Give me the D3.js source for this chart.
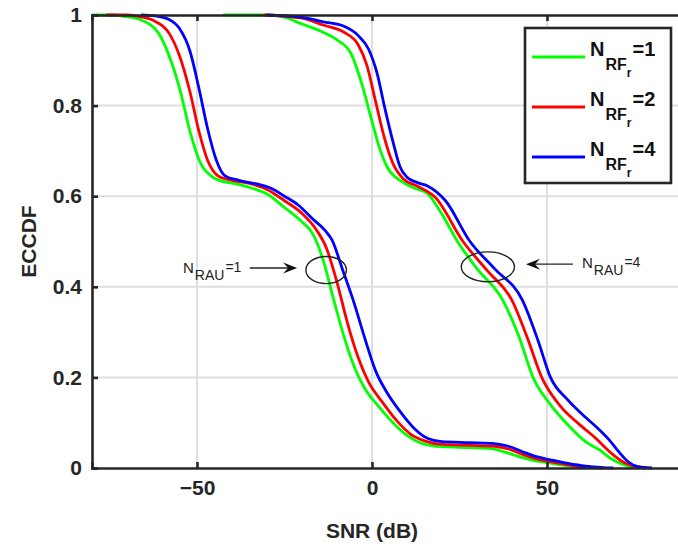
<!DOCTYPE html>
<html>
<head>
<meta charset="utf-8">
<script src="https://cdn.jsdelivr.net/npm/d3@7"></script>
<style>
  body { margin: 0; background: #fff; }
  text { font-family: "Liberation Sans", Arial, sans-serif; }
</style>
</head>
<body>
<div id="chart"></div>
<script>

// ECCDF of SNR, two groups (N_RAU=1 left, N_RAU=4 right), three N_RF values each
const xTicks = [-50, 0, 50];
const yTicks = [0, 0.2, 0.4, 0.6, 0.8, 1];
const seriesNames = ['1', '2', '4'];
const seriesColors = ['#00ff00', '#ff0000', '#0000ff'];

// N_RAU = 1
const rau1X_rf1 = [-82, -74, -71, -66, -61, -57.5, -54.7, -51.9, -49, -46, -44, -40, -37.6, -34, -30, -25, -20, -17, -14, -11, -8, -5, -2, 2, 6, 10, 14, 20, 28, 34, 38, 42, 46, 50, 55, 60, 63];
const rau1Y_rf1 = [1, 1, 0.997, 0.989, 0.96, 0.90, 0.83, 0.74, 0.673, 0.645, 0.636, 0.629, 0.625, 0.617, 0.605, 0.575, 0.543, 0.518, 0.46, 0.373, 0.29, 0.222, 0.175, 0.135, 0.1, 0.072, 0.055, 0.047, 0.045, 0.043, 0.035, 0.025, 0.017, 0.012, 0.006, 0.002, 0];
const rau1X_rf2 = [-76, -70, -66, -62, -58, -55, -52, -49.5, -47, -44, -40, -35, -30, -25, -20, -16, -13, -10, -7, -4, -1, 3, 7, 11, 15, 20, 28, 35, 39, 43, 47, 51, 56, 61, 66];
const rau1Y_rf2 = [1, 1, 0.996, 0.986, 0.96, 0.91, 0.83, 0.745, 0.68, 0.645, 0.635, 0.628, 0.615, 0.59, 0.562, 0.527, 0.485, 0.41, 0.32, 0.245, 0.19, 0.145, 0.105, 0.075, 0.06, 0.052, 0.05, 0.048, 0.042, 0.03, 0.02, 0.014, 0.007, 0.002, 0];
const rau1X_rf4 = [-66, -62, -58, -55, -52, -49.5, -47, -44.5, -42, -38, -33, -29, -25, -21, -17, -13.5, -11.4, -8.5, -5.4, -2, 1, 4, 8, 12, 16, 20, 28, 35, 39, 43, 47, 51, 56, 61, 66, 69];
const rau1Y_rf4 = [1, 0.998, 0.99, 0.97, 0.92, 0.84, 0.75, 0.68, 0.645, 0.635, 0.627, 0.618, 0.6, 0.58, 0.55, 0.525, 0.503, 0.44, 0.371, 0.285, 0.215, 0.17, 0.125, 0.088, 0.065, 0.058, 0.056, 0.054, 0.048, 0.036, 0.025, 0.018, 0.01, 0.004, 0.001, 0];

// N_RAU = 4
const rau4X_rf1 = [-42.5, -30, -25, -20, -14, -10, -6, -3, 0, 2, 4.3, 8.8, 12, 15.7, 20, 24.2, 30, 37.3, 42, 46, 51, 56, 61, 65, 68, 71, 76];
const rau4Y_rf1 = [1, 1, 0.995, 0.98, 0.962, 0.945, 0.915, 0.85, 0.765, 0.71, 0.665, 0.631, 0.618, 0.607, 0.56, 0.503, 0.44, 0.371, 0.29, 0.2, 0.14, 0.095, 0.058, 0.04, 0.022, 0.01, 0];
const rau4X_rf2 = [-31, -20, -14, -8, -4, -1.5, 1, 3.5, 6, 9, 13, 18, 26, 33, 40, 44.5, 48.5, 54, 59, 64, 68, 72, 78];
const rau4Y_rf2 = [1, 0.993, 0.978, 0.962, 0.935, 0.89, 0.81, 0.73, 0.672, 0.638, 0.622, 0.598, 0.5, 0.435, 0.37, 0.285, 0.2, 0.135, 0.098, 0.065, 0.035, 0.012, 0];
const rau4X_rf4 = [-30, -20, -14, -8, -4, -1, 1.5, 3.5, 6, 8, 10, 13, 16, 21, 28, 35, 43, 47.5, 51, 56, 61, 65, 68, 70.6, 73, 76, 80];
const rau4Y_rf4 = [1, 0.995, 0.985, 0.975, 0.955, 0.925, 0.87, 0.8, 0.72, 0.665, 0.642, 0.63, 0.622, 0.59, 0.5, 0.44, 0.37, 0.28, 0.2, 0.15, 0.112, 0.084, 0.06, 0.035, 0.015, 0.003, 0];

// annotations, in data units
const noteLabels = ['1', '4'];
const ellipseCenters = [[-13.1, 0.437], [33.1, 0.444]];
const ellipseRadii = [[5.8, 0.030], [7.6, 0.033]];
const arrowFrom = [[-34.9, 0.4415], [57.4, 0.450]];
const arrowTo = [[-21.4, 0.4415], [44.0, 0.450]];
const noteTextPos = [[-54, 0.431], [60, 0.4415]];

const width = 678, height = 552;
const plotLeft = 92, plotTop = 15, plotBottom = 468, plotRight = 687;
const axisColor = '#262626';

const svg = d3.select('#chart')
              .append('svg')
              .attr('width', width)
              .attr('height', height);

let scaleX = d3.scaleLinear().domain([-80, 90]).range([plotLeft, plotRight]);
let scaleY = d3.scaleLinear().domain([0, 1]).range([plotBottom, plotTop]);

// grid
svg.append('g').selectAll('line')
   .data(xTicks)
   .enter().append('line')
   .attr('x1', d => scaleX(d)).attr('x2', d => scaleX(d))
   .attr('y1', plotTop).attr('y2', plotBottom)
   .style('stroke', '#dedede').style('stroke-width', 2);

svg.append('g').selectAll('line')
   .data(yTicks.slice(1, -1))
   .enter().append('line')
   .attr('x1', plotLeft).attr('x2', plotRight)
   .attr('y1', d => scaleY(d)).attr('y2', d => scaleY(d))
   .style('stroke', '#dedede').style('stroke-width', 2);

// curves
svg.append('clipPath').attr('id', 'clip')
   .append('rect')
   .attr('x', plotLeft).attr('y', plotTop - 3)
   .attr('width', plotRight - plotLeft).attr('height', plotBottom - plotTop + 6);

const curves = [
  {xs: rau1X_rf1, ys: rau1Y_rf1, s: 0}, {xs: rau4X_rf1, ys: rau4Y_rf1, s: 0},
  {xs: rau1X_rf2, ys: rau1Y_rf2, s: 1}, {xs: rau4X_rf2, ys: rau4Y_rf2, s: 1},
  {xs: rau1X_rf4, ys: rau1Y_rf4, s: 2}, {xs: rau4X_rf4, ys: rau4Y_rf4, s: 2}
];

let line = d3.line()
             .x(d => scaleX(d[0]))
             .y(d => scaleY(d[1]))
             .curve(d3.curveMonotoneX);

svg.append('g').attr('clip-path', 'url(#clip)')
   .selectAll('path')
   .data(curves)
   .enter().append('path')
   .attr('d', c => line(c.xs.map((x, i) => [x, c.ys[i]])))
   .style('fill', 'none')
   .style('stroke', c => seriesColors[c.s])
   .style('stroke-width', 2.8);

// axes
let xAxis = d3.axisBottom(scaleX).tickValues(xTicks).tickSize(-6).tickPadding(12);
let yAxis = d3.axisLeft(scaleY).tickValues(yTicks).tickSize(-6).tickPadding(10)
              .tickFormat(d => d3.format('~g')(d));
let topAxis = d3.axisTop(scaleX).tickValues(xTicks).tickSize(-6).tickFormat('');

function styleAxis(g) {
  g.select('.domain').style('stroke', axisColor).style('stroke-width', 2.6);
  g.selectAll('.tick line').style('stroke', axisColor).style('stroke-width', 2.6);
  g.selectAll('.tick text')
   .style('fill', axisColor)
   .style('font-size', '21px')
   .style('font-weight', 'bold');
}

svg.append('g').attr('transform', 'translate(0,' + plotBottom + ')').call(xAxis).call(styleAxis);
svg.append('g').attr('transform', 'translate(' + plotLeft + ',0)').call(yAxis).call(styleAxis);
svg.append('g').attr('transform', 'translate(0,' + plotTop + ')').call(topAxis).call(styleAxis);

svg.append('text')
   .attr('x', scaleX(0))
   .attr('y', 538)
   .style('text-anchor', 'middle')
   .style('font-size', '21px')
   .style('font-weight', 'bold')
   .style('fill', axisColor)
   .text('SNR (dB)');

svg.append('text')
   .attr('transform', 'translate(36,' + (plotTop + plotBottom) / 2 + ') rotate(-90)')
   .style('text-anchor', 'middle')
   .style('font-size', '21px')
   .style('font-weight', 'bold')
   .style('fill', axisColor)
   .text('ECCDF');

// annotations
noteLabels.forEach((lab, i) => {
  svg.append('ellipse')
     .attr('cx', scaleX(ellipseCenters[i][0]))
     .attr('cy', scaleY(ellipseCenters[i][1]))
     .attr('rx', scaleX(ellipseRadii[i][0]) - scaleX(0))
     .attr('ry', scaleY(0) - scaleY(ellipseRadii[i][1]))
     .style('fill', 'none')
     .style('stroke', '#222')
     .style('stroke-width', 1.4);

  let x0 = scaleX(arrowFrom[i][0]), y0 = scaleY(arrowFrom[i][1]);
  let x1 = scaleX(arrowTo[i][0]), y1 = scaleY(arrowTo[i][1]);
  let dir = Math.sign(x1 - x0);
  svg.append('line')
     .attr('x1', x0).attr('y1', y0)
     .attr('x2', x1 - dir * 8).attr('y2', y1)
     .style('stroke', '#222').style('stroke-width', 1.4);
  svg.append('path')
     .attr('d', 'M' + x1 + ',' + y1 +
                'L' + (x1 - dir * 14) + ',' + (y1 - 5.5) +
                'L' + (x1 - dir * 9) + ',' + y1 +
                'L' + (x1 - dir * 14) + ',' + (y1 + 5.5) + 'Z')
     .style('fill', '#111');

  let t = svg.append('text')
             .attr('x', scaleX(noteTextPos[i][0]))
             .attr('y', scaleY(noteTextPos[i][1]))
             .style('fill', '#222');
  t.append('tspan').style('font-size', '15px').text('N');
  t.append('tspan').style('font-size', '14px').attr('dx', 1).attr('dy', 7).text('RAU');
  t.append('tspan').style('font-size', '14px').attr('dx', 1).attr('dy', -8).text('=' + lab);
});

// legend
const legX = 525, legY = 28, legW = 146, legH = 155;
svg.append('rect')
   .attr('x', legX).attr('y', legY)
   .attr('width', legW).attr('height', legH)
   .style('fill', '#fff')
   .style('stroke', axisColor)
   .style('stroke-width', 2.6);

seriesNames.forEach((name, i) => {
  let ly = 57 + i * 50;
  svg.append('line')
     .attr('x1', 532).attr('x2', 585)
     .attr('y1', ly).attr('y2', ly)
     .style('stroke', seriesColors[i])
     .style('stroke-width', 2.8);
  let t = svg.append('text')
             .attr('x', 590)
             .attr('y', ly - 1)
             .style('font-weight', 'bold')
             .style('fill', '#111');
  t.append('tspan').style('font-size', '20px').text('N');
  t.append('tspan').style('font-size', '16px').attr('dx', 1).attr('dy', 14).text('RF');
  t.append('tspan').style('font-size', '12px').attr('dy', 7).text('r');
  t.append('tspan').style('font-size', '20px').attr('dx', 1).attr('dy', -21).text('=' + name);
});

</script>
</body>
</html>
